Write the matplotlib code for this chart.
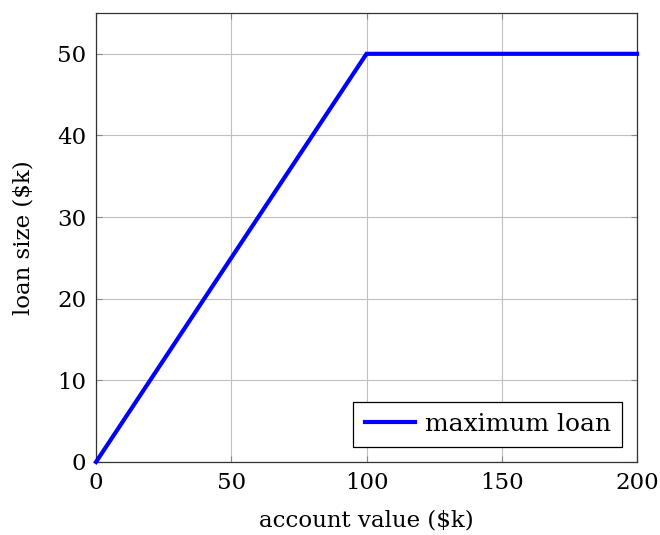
import matplotlib
matplotlib.use("Agg")
import matplotlib.pyplot as plt

# data
account_value = [0, 100, 200]
max_loan = [0, 50, 50]
x_ticks = [0, 50, 100, 150, 200]
y_ticks = [0, 10, 20, 30, 40, 50]

plt.rcParams["font.family"] = ["DejaVu Serif"]
plt.rcParams["mathtext.fontset"] = "dejavuserif"

fig = plt.figure(figsize=(6.6, 5.35), dpi=100)
ax = fig.add_axes([96 / 660, 73 / 535, 541 / 660, 449 / 535])

ax.plot(account_value, max_loan, color="blue", lw=3, label="maximum loan",
        solid_joinstyle="miter", zorder=3, clip_on=False)

ax.set_xlim(0, 200)
ax.set_ylim(0, 55)
ax.set_xticks(x_ticks)
ax.set_yticks(y_ticks)
ax.grid(True, color="#c0c0c0", lw=0.8)
ax.tick_params(direction="in", top=True, right=True, labelsize=16.5,
               length=4, color="#888888", pad=7)
for s in ax.spines.values():
    s.set_linewidth(0.9)
    s.set_color("#333333")

ax.set_xlabel("account value (\\$k)", fontsize=16.5, labelpad=11)
ax.set_ylabel("loan size (\\$k)", fontsize=16.5, labelpad=16)

leg = ax.legend(loc="lower right", fontsize=18, fancybox=False,
                edgecolor="black", framealpha=1, handlelength=2.0,
                handletextpad=0.4, borderaxespad=0.6, borderpad=0.45)
leg.get_frame().set_linewidth(0.9)

fig.savefig("out.png", dpi=100)
